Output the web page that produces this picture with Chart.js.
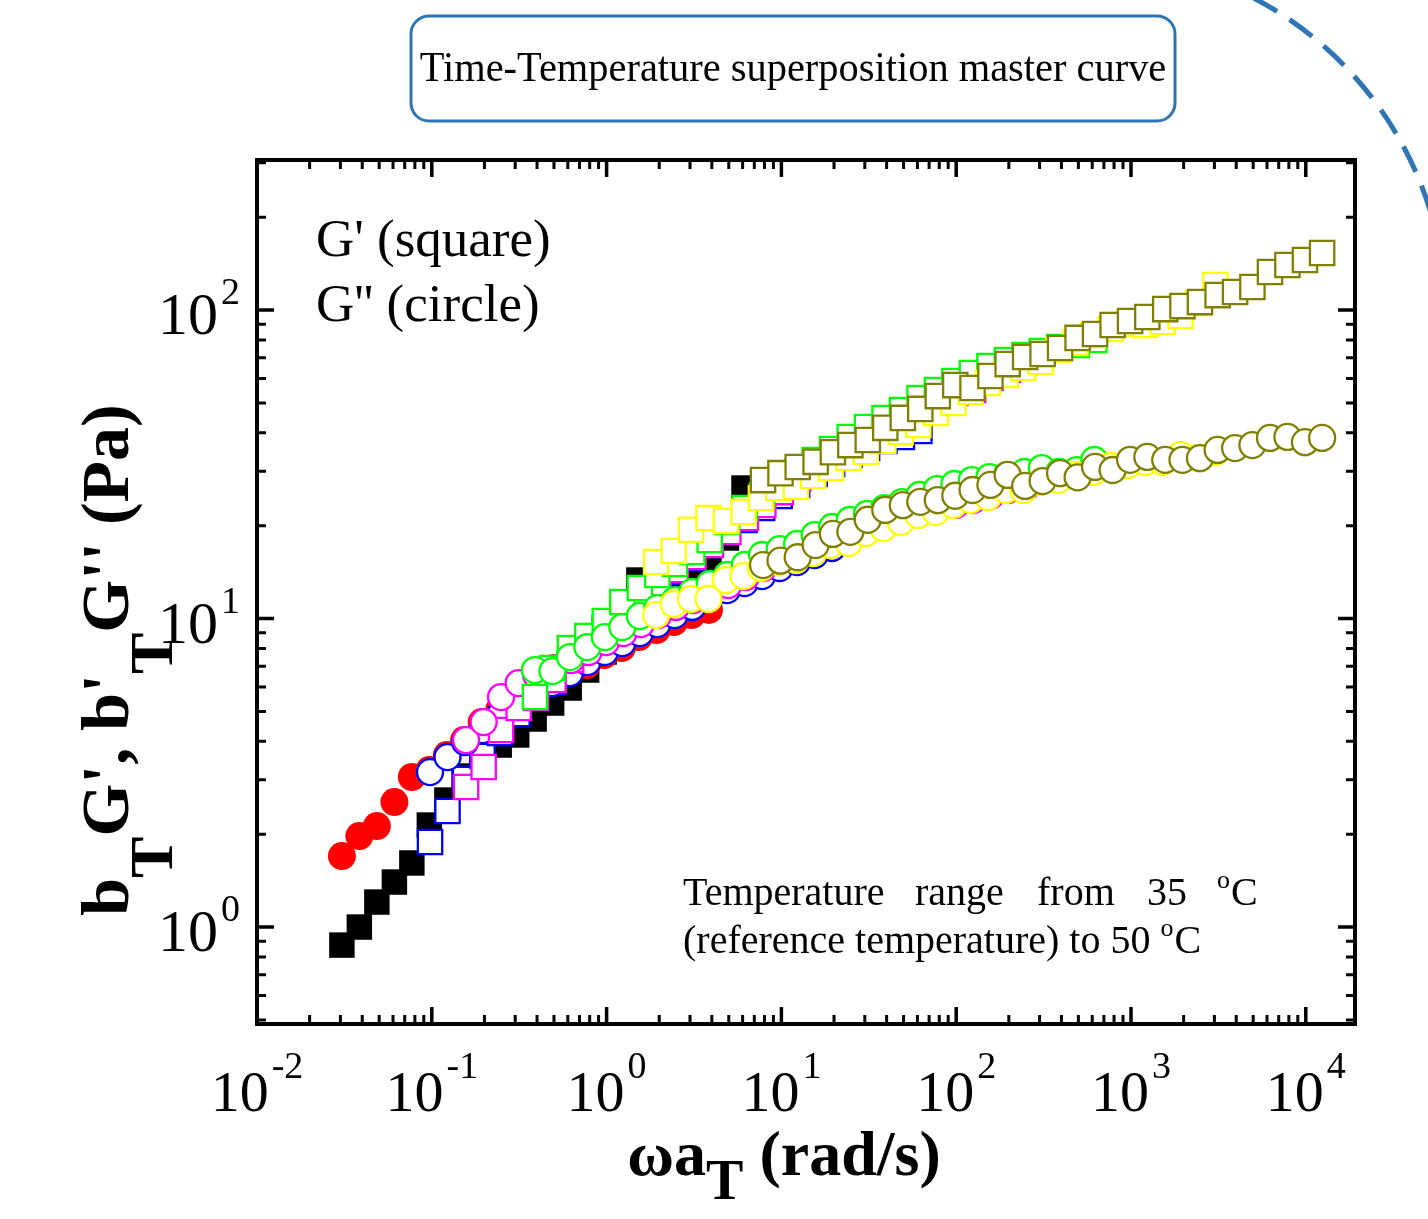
<!DOCTYPE html>
<html>
<head>
<meta charset="utf-8">
<title>Time-Temperature superposition master curve</title>
<script src="https://cdn.jsdelivr.net/npm/chart.js@4.4.1/dist/chart.umd.min.js"></script>
<style>
  html, body { margin: 0; padding: 0; background: #ffffff; }
  #wrap { width: 1428px; height: 1219px; }
</style>
</head>
<body>
<div id="wrap"><canvas id="masterChart" width="1428" height="1219"></canvas></div>
<script>
// frekuensi tergeser (rad/s) dan modulus (Pa)
const freqA = [0.0306, 0.0385, 0.0485, 0.0611, 0.0769, 0.0968, 0.122, 0.153, 0.193, 0.243, 0.306, 0.385, 0.485, 0.611, 0.769, 0.968, 1.22, 1.53, 1.93, 2.43, 3.06, 3.85, 4.85, 6.11];
const gStorA = [0.874, 1.00, 1.205, 1.399, 1.613, 2.141, 2.580, 3.087, 3.583, 3.890, 4.193, 4.724, 5.322, 5.953, 6.809, 7.789, 9.316, 13.33, 11.48, 12.37, 13.84, 15.47, 18.24, 26.49];
const gLossA = [1.699, 1.972, 2.125, 2.542, 3.064, 3.228, 3.610, 4.038, 4.619, 5.052, 5.525, 5.953, 6.318, 6.809, 7.068, 7.615, 8.023, 8.710, 9.178, 9.743, 10.26, 10.66];

const freqB = [0.0977, 0.123, 0.155, 0.195, 0.245, 0.309, 0.389, 0.489, 0.616, 0.776, 0.977, 1.23, 1.55, 1.95, 2.45, 3.09, 3.89, 4.89, 6.16, 7.76, 9.77, 12.3, 15.5, 19.5, 24.5, 30.9, 38.9, 48.9, 61.6];
const gStorB = [1.886, 2.377, 3.018, 3.583, 4.254, 4.901, 5.525, 6.227, 7.119, 8.144, 9.316, 10.50, 11.74, 12.94, 14.15, 15.71, 17.31, 19.07, 20.86, 22.81, 24.95, 27.08, 29.40, 31.68, 33.88, 35.71, 37.62, 38.75, 40.53];
const gLossB = [3.180, 3.556, 3.978, 4.351, 4.866, 5.322, 5.777, 6.178, 6.658, 7.228, 7.789, 8.327, 8.974, 9.598, 10.26, 10.90, 11.65, 12.37, 13.03, 13.73, 14.58, 15.25, 16.07, 16.93, 18.24, 19.36, 20.40, 21.33, 22.14];

const freqC = [0.157, 0.198, 0.249, 0.314, 0.395, 0.497, 0.626, 0.788, 0.992, 1.25, 1.57, 1.98, 2.49, 3.14, 3.95, 4.97, 6.26, 7.88, 9.92, 12.5, 15.7, 19.8, 24.9, 31.4, 39.5, 49.7, 62.6, 78.8, 99.2, 125, 157, 198, 249];
const gStorC = [2.843, 3.301, 4.351, 5.128, 5.525, 6.318, 7.337, 8.390, 9.526, 10.81, 12.10, 13.03, 14.36, 15.83, 17.31, 19.07, 21.18, 23.33, 25.70, 28.53, 31.45, 34.14, 37.07, 40.22, 42.71, 45.67, 48.85, 51.09, 53.83, 55.05, 60.21, 63.91, 67.82];
const gLossC = [4.038, 4.619, 5.566, 6.178, 6.559, 6.910, 7.337, 7.789, 8.390, 8.974, 9.598, 10.26, 10.90, 11.48, 12.19, 12.84, 13.63, 14.58, 15.47, 16.43, 17.31, 18.24, 19.36, 20.40, 21.33, 22.14, 22.81, 23.16, 23.33, 24.22, 24.95, 26.10, 26.49];

const freqD = [0.389, 0.490, 0.617, 0.776, 0.977, 1.23, 1.55, 1.95, 2.46, 3.09, 3.89, 4.90, 6.17, 7.76, 9.77, 12.3, 15.5, 19.5, 24.6, 30.9, 38.9, 49.0, 61.7, 77.6, 97.7, 123, 155, 195, 246, 309, 389, 490, 617];
const gStorD = [5.566, 6.910, 8.023, 8.776, 9.815, 11.31, 12.56, 13.84, 15.02, 16.43, 17.97, 20.55, 22.81, 25.14, 27.29, 29.85, 32.65, 35.44, 38.75, 41.76, 44.67, 47.41, 51.85, 55.05, 58.88, 62.49, 65.84, 68.85, 71.46, 73.63, 75.86, 76.99, 79.92];
const gLossD = [6.809, 6.758, 7.503, 8.083, 8.710, 9.385, 10.19, 10.81, 11.48, 12.19, 12.94, 13.84, 14.91, 16.07, 16.80, 17.44, 18.65, 19.80, 20.86, 21.82, 22.81, 23.85, 25.14, 26.29, 27.29, 28.11, 28.74, 29.18, 29.85, 30.74, 29.85, 30.29, 32.65];

const freqE = [1.92, 2.42, 3.04, 3.83, 4.82, 6.07, 7.64, 9.62, 12.1, 15.2, 19.2, 24.2, 30.4, 38.3, 48.2, 60.7, 76.4, 96.2, 121, 152, 192, 242, 304, 383, 482, 607, 764, 962, 1210, 1520, 1920, 2420, 3040];
const gStorE = [15.25, 16.55, 19.40, 21.18, 20.70, 22.14, 24.59, 26.49, 26.69, 28.97, 30.74, 33.13, 34.65, 37.62, 40.22, 42.39, 46.36, 49.95, 54.24, 58.00, 61.56, 64.86, 67.82, 74.19, 78.18, 83.03, 86.80, 90.09, 89.41, 91.44, 95.63, 105.4, 120.5];
const gLossE = [10.26, 11.14, 11.57, 11.57, 13.33, 13.73, 14.58, 15.25, 15.47, 16.31, 17.31, 17.57, 18.93, 19.65, 20.55, 21.65, 22.14, 23.33, 24.22, 24.77, 26.10, 26.10, 27.70, 28.11, 29.18, 29.85, 31.22, 31.45, 32.16, 32.16, 33.88, 33.13, 34.65];

const freqF = [7.85, 9.88, 12.4, 15.7, 19.7, 24.8, 31.2, 39.3, 49.5, 62.3, 78.5, 98.8, 124, 157, 197, 248, 312, 393, 495, 623, 785, 988, 1240, 1570, 1970, 2480, 3130, 3940, 4950, 6240, 7850, 9890, 12400];
const gStorF = [28.1, 29.6, 31.0, 32.2, 34.6, 36.5, 37.9, 41.5, 44.7, 47.8, 52.6, 57.1, 55.9, 61.1, 66.8, 70.4, 72.0, 75.3, 81.2, 83.6, 89.4, 92.1, 94.9, 100.7, 103.0, 106.1, 111.8, 114.4, 118.7, 132.8, 139.9, 145.3, 153.0];
const gLossF = [14.9, 15.4, 15.8, 17.3, 18.8, 19.1, 20.9, 22.5, 23.3, 23.9, 24.2, 25.0, 26.1, 27.1, 29.2, 26.9, 27.9, 29.6, 28.7, 31.0, 30.3, 32.7, 33.4, 32.7, 32.7, 33.1, 35.2, 35.7, 36.5, 38.5, 38.8, 37.3, 38.5];

// label tick: pangkat sepuluh
const xTickExp = ['-2', '-1', '0', '1', '2', '3', '4'];
const yTickExp = ['0', '1', '2'];

const SERIF = '"Liberation Serif", "Times New Roman", serif';

document.addEventListener('DOMContentLoaded', () => {
    buatGrafikMaster();
});

function pasangkan(xs, ys) {
    return ys.map((y, i) => ({ x: xs[i], y: y }));
}

function tulisRuntun(c, parts, x, y, align) {
    let total = 0;
    parts.forEach(p => {
        c.font = p.font;
        p.w = c.measureText(p.t).width + (p.gap || 0);
        total += p.w;
    });
    let cx = x;
    if (align === 'center') cx = x - total / 2;
    if (align === 'right') cx = x - total;
    parts.forEach(p => {
        c.font = p.font;
        c.fillText(p.t, cx + (p.gap || 0), y + (p.dy || 0));
        cx += p.w;
    });
}

const hiasan = {
    id: 'hiasan',
    beforeDraw(chart) {
        const c = chart.ctx;
        c.save();
        c.fillStyle = '#ffffff';
        c.fillRect(0, 0, chart.width, chart.height);
        c.restore();
    },
    afterDraw(chart) {
        const c = chart.ctx;
        const sx = chart.scales.x, sy = chart.scales.y;
        const { left, right, top, bottom } = chart.chartArea;

        c.save();
        c.textAlign = 'left';
        c.textBaseline = 'alphabetic';
        c.fillStyle = '#000000';
        c.strokeStyle = '#000000';

        // bingkai
        c.lineWidth = 4;
        c.strokeRect(left, top, right - left, bottom - top);

        // tick ke dalam, di keempat sisi
        for (let e = -2; e <= 4; e++) {
            for (let m = 1; m <= 9; m++) {
                const v = m * Math.pow(10, e);
                if (v < sx.min || v > sx.max) continue;
                const px = sx.getPixelForValue(v);
                const len = m === 1 ? 17 : 9;
                c.lineWidth = m === 1 ? 3.5 : 3;
                c.beginPath();
                c.moveTo(px, bottom); c.lineTo(px, bottom - len);
                c.moveTo(px, top); c.lineTo(px, top + len);
                c.stroke();
            }
        }
        for (let e = -1; e <= 2; e++) {
            for (let m = 1; m <= 9; m++) {
                const v = m * Math.pow(10, e);
                if (v < sy.min || v > sy.max) continue;
                const py = sy.getPixelForValue(v);
                const len = m === 1 ? 17 : 9;
                c.lineWidth = m === 1 ? 3.5 : 3;
                c.beginPath();
                c.moveTo(left, py); c.lineTo(left + len, py);
                c.moveTo(right, py); c.lineTo(right - len, py);
                c.stroke();
            }
        }

        // label tick
        xTickExp.forEach(ex => {
            const px = sx.getPixelForValue(Math.pow(10, Number(ex)));
            tulisRuntun(c, [
                { t: '10', font: '58px ' + SERIF },
                { t: ex, font: '38px ' + SERIF, dy: -33, gap: 3 }
            ], px, 1111, 'center');
        });
        yTickExp.forEach(ex => {
            const py = sy.getPixelForValue(Math.pow(10, Number(ex)));
            tulisRuntun(c, [
                { t: '10', font: '60px ' + SERIF },
                { t: ex, font: '38px ' + SERIF, dy: -30, gap: 3 }
            ], 240, py + 24, 'right');
        });

        // judul sumbu x
        tulisRuntun(c, [
            { t: '\u03c9a', font: 'bold 64px ' + SERIF },
            { t: 'T', font: 'bold 56px ' + SERIF, dy: 24 },
            { t: ' (rad/s)', font: 'bold 64px ' + SERIF }
        ], 784, 1175, 'center');

        // judul sumbu y (diputar)
        c.save();
        c.translate(128, 660);
        c.rotate(-Math.PI / 2);
        tulisRuntun(c, [
            { t: 'b', font: 'bold 68px ' + SERIF },
            { t: 'T', font: 'bold 62px ' + SERIF, dy: 44 },
            { t: "G', b'", font: 'bold 68px ' + SERIF },
            { t: 'T', font: 'bold 62px ' + SERIF, dy: 44 },
            { t: "G'' (Pa)", font: 'bold 68px ' + SERIF }
        ], 0, 0, 'center');
        c.restore();

        // keterangan simbol
        c.font = '53px ' + SERIF;
        c.fillText("G' (square)", 316, 256);
        c.fillText("G'' (circle)", 316, 321);

        // keterangan suhu
        c.font = '40px ' + SERIF;
        c.fillText('Temperature', 683, 905);
        c.fillText('range', 915, 905);
        c.fillText('from', 1037, 905);
        c.fillText('35', 1147, 905);
        c.font = '26px ' + SERIF;
        c.fillText('o', 1217, 888);
        c.font = '40px ' + SERIF;
        c.fillText('C', 1231, 905);
        tulisRuntun(c, [
            { t: '(reference temperature) to 50 ', font: '40px ' + SERIF },
            { t: 'o', font: '26px ' + SERIF, dy: -17 },
            { t: 'C', font: '40px ' + SERIF, gap: 1 }
        ], 683, 953, 'left');

        // kotak judul
        const bx = 411, by = 16, bw = 764, bh = 105, r = 18;
        c.strokeStyle = '#2e75b6';
        c.lineWidth = 3;
        c.beginPath();
        c.moveTo(bx + r, by);
        c.arcTo(bx + bw, by, bx + bw, by + bh, r);
        c.arcTo(bx + bw, by + bh, bx, by + bh, r);
        c.arcTo(bx, by + bh, bx, by, r);
        c.arcTo(bx, by, bx + bw, by, r);
        c.closePath();
        c.stroke();
        c.save();
        c.translate(793, 81);
        c.scale(0.94, 1);
        c.font = '43px ' + SERIF;
        c.textAlign = 'center';
        c.fillText('Time-Temperature superposition master curve', 0, 0);
        c.restore();

        // busur putus-putus di pojok kanan atas
        c.strokeStyle = '#2e75b6';
        c.lineWidth = 5;
        c.setLineDash([28, 15]);
        c.beginPath();
        c.arc(1087, 316, 359, -62.5 * Math.PI / 180, -12 * Math.PI / 180);
        c.stroke();
        c.setLineDash([]);

        c.restore();
    }
};

function buatGrafikMaster() {
    const ctx = document.getElementById('masterChart').getContext('2d');

    const kelompok = [
        { f: freqA, gs: gStorA, gl: gLossA, warna: '#000000', warna2: '#ff0000', isi: true },
        { f: freqB, gs: gStorB, gl: gLossB, warna: '#0000ff', warna2: '#0000ff', isi: false },
        { f: freqC, gs: gStorC, gl: gLossC, warna: '#ff00ff', warna2: '#ff00ff', isi: false },
        { f: freqD, gs: gStorD, gl: gLossD, warna: '#00ff00', warna2: '#00ff00', isi: false },
        { f: freqE, gs: gStorE, gl: gLossE, warna: '#ffff00', warna2: '#ffff00', isi: false },
        { f: freqF, gs: gStorF, gl: gLossF, warna: '#808000', warna2: '#808000', isi: false }
    ];

    const datasets = [];
    kelompok.forEach(k => {
        datasets.push({
            data: pasangkan(k.f, k.gs),
            pointStyle: 'rect',
            pointRadius: k.isi ? 18 : 17.2,
            backgroundColor: k.isi ? k.warna : '#ffffff',
            borderColor: k.warna,
            borderWidth: k.isi ? 0 : 2.3,
            showLine: false,
            clip: false
        });
        datasets.push({
            data: pasangkan(k.f, k.gl),
            pointStyle: 'circle',
            pointRadius: k.isi ? 14 : 13,
            backgroundColor: k.isi ? k.warna2 : '#ffffff',
            borderColor: k.warna2,
            borderWidth: k.isi ? 0 : 2.3,
            showLine: false,
            clip: false
        });
    });
    // dataset berikutnya digambar di atas yang sebelumnya
    datasets.forEach((d, i) => { d.order = -i; });

    new Chart(ctx, {
        type: 'scatter',
        data: { datasets: datasets },
        options: {
            responsive: false,
            animation: false,
            events: [],
            layout: { padding: { left: 257, right: 73, top: 160, bottom: 195 } },
            plugins: {
                legend: { display: false },
                tooltip: { enabled: false }
            },
            scales: {
                x: { type: 'logarithmic', min: 0.01, max: 19120, display: false },
                y: { type: 'logarithmic', min: 0.485, max: 306.4, display: false }
            }
        },
        plugins: [hiasan]
    });
}
</script>
</body>
</html>
